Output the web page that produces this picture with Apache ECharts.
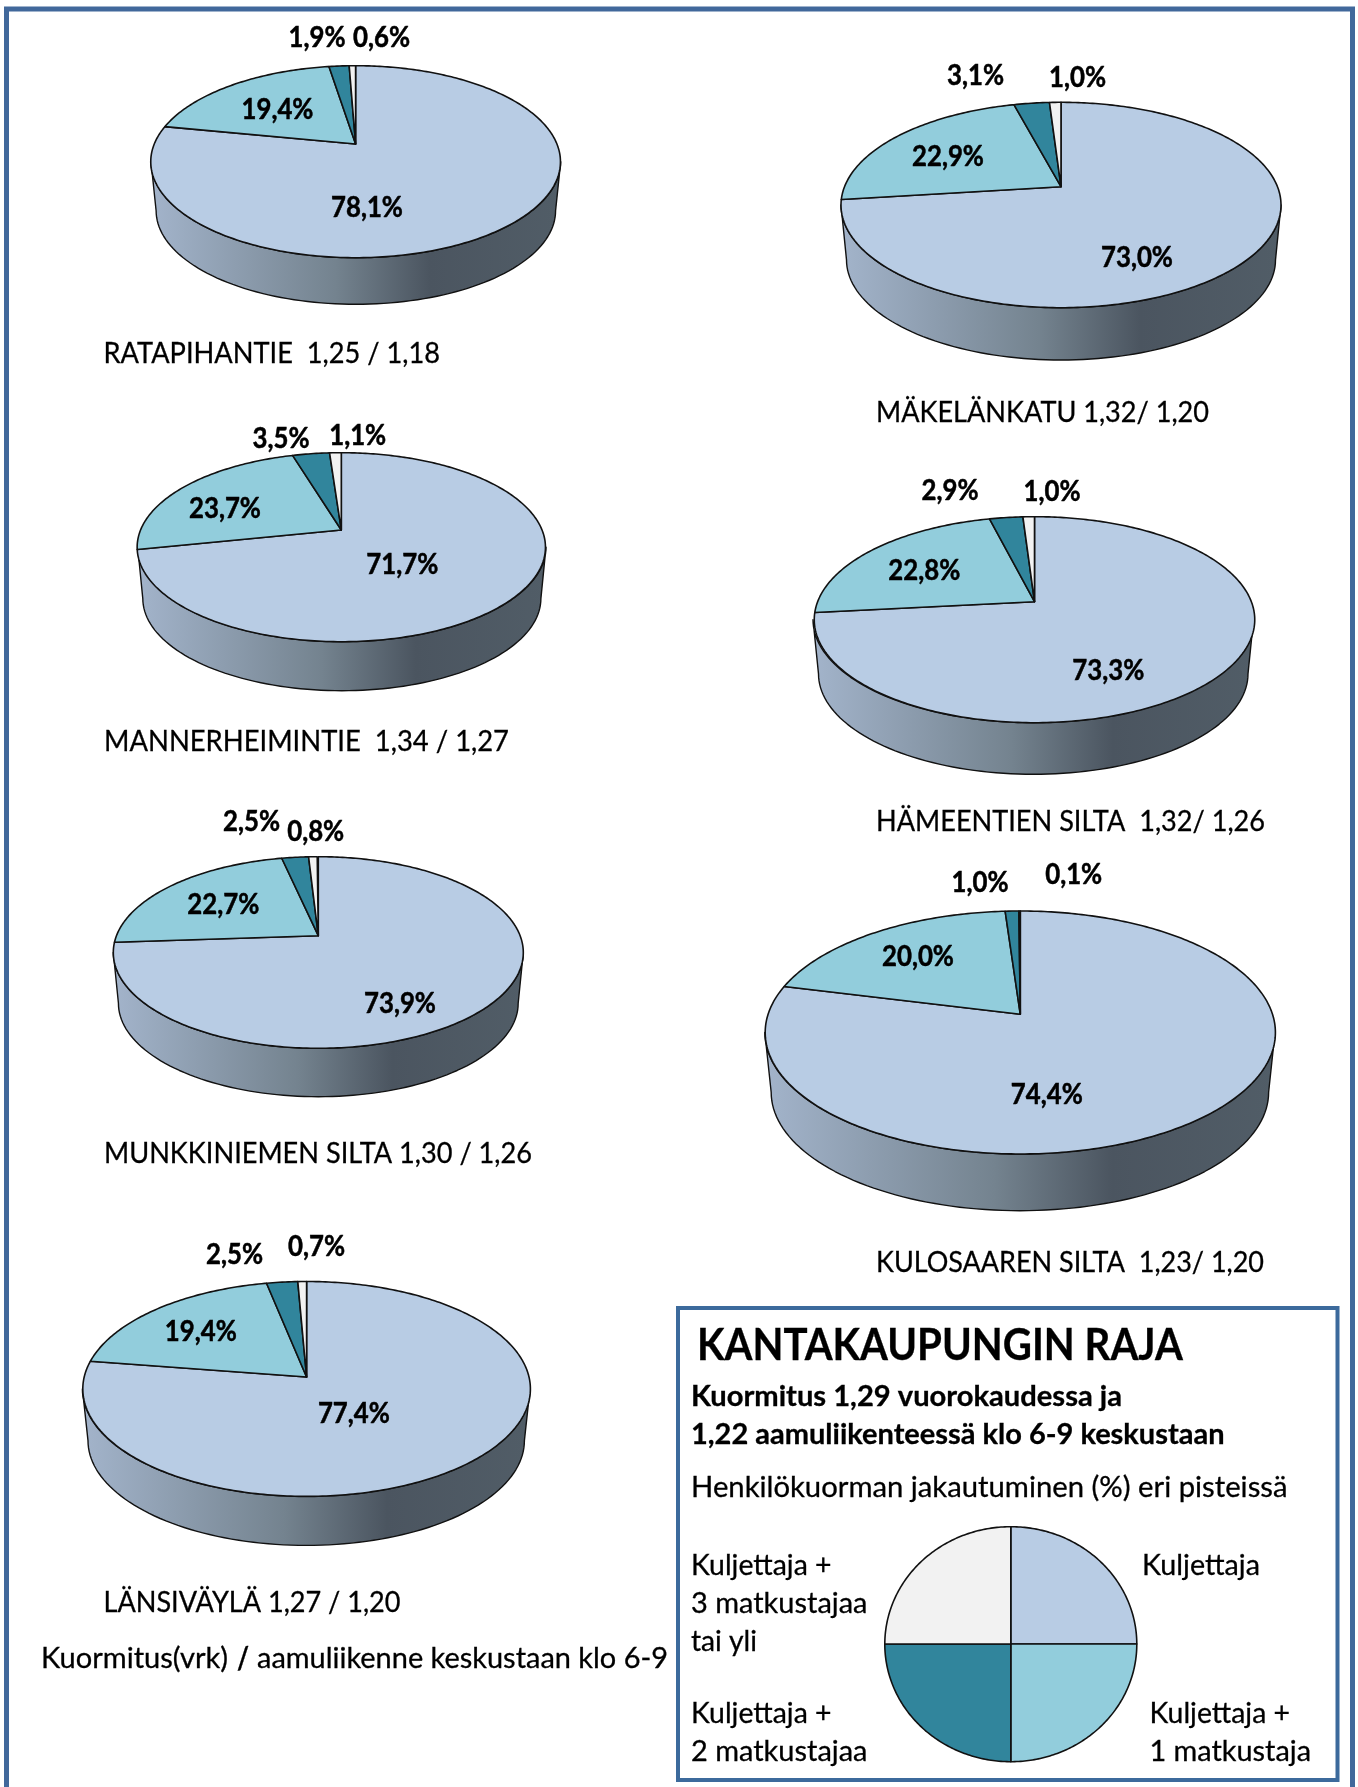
<!DOCTYPE html>
<html>
<head>
    <meta charset="utf-8">
    <script src="https://cdn.jsdelivr.net/npm/echarts@6/dist/echarts.min.js"></script>
    <style>html,body{margin:0;padding:0;background:#fff}</style>
</head>
<body>
    <div id="main" style="width:1358px;height:1787px;"></div>
    <script type="text/javascript">
    // slice share per point, order: kuljettaja, +1, +2, +3 or more
    let ratapihantieValues = [78.1, 19.4, 1.9, 0.6]
    let makelankatuValues = [73.0, 22.9, 3.1, 1.0]
    let mannerheimintieValues = [71.7, 23.7, 3.5, 1.1]
    let hameentienValues = [73.3, 22.8, 2.9, 1.0]
    let munkkiniemenValues = [73.9, 22.7, 2.5, 0.8]
    // the drawn slice is about 78.9 although its printed label says 74,4%
    let kulosaarenValues = [78.9, 20.0, 1.0, 0.1]
    let lansivaylaValues = [77.4, 19.4, 2.5, 0.7]
    let legendValues = [25, 25, 25, 25]

    let ratapihantieLabels = ['78,1%', '19,4%', '1,9%', '0,6%']
    let makelankatuLabels = ['73,0%', '22,9%', '3,1%', '1,0%']
    let mannerheimintieLabels = ['71,7%', '23,7%', '3,5%', '1,1%']
    let hameentienLabels = ['73,3%', '22,8%', '2,9%', '1,0%']
    let munkkiniemenLabels = ['73,9%', '22,7%', '2,5%', '0,8%']
    let kulosaarenLabels = ['74,4%', '20,0%', '1,0%', '0,1%']
    let lansivaylaLabels = ['77,4%', '19,4%', '2,5%', '0,7%']

    let colors = ['#b8cce4', '#92cddc', '#31859c', '#f2f2f2']
    let lineColor = '#111'

    // left, right, top, bottom, apexX, apexY, wallBottom
    let pies = [
        {name: 'Ratapihantie', values: ratapihantieValues, labels: ratapihantieLabels,
         box: [151, 560.7, 65.7, 257.7, 355.6, 144, 304.3],
         labelAt: [[367, 208], [277.5, 110], [317, 37.7], [381.6, 37.7]]},
        {name: 'Mäkelänkatu', values: makelankatuValues, labels: makelankatuLabels,
         box: [841, 1281, 102.3, 307.7, 1061, 186.7, 360],
         labelAt: [[1137, 257.5], [948, 156.7], [975.5, 76], [1077.5, 78.3]]},
        {name: 'Mannerheimintie', values: mannerheimintieValues, labels: mannerheimintieLabels,
         box: [137.7, 546, 452.7, 641.7, 341.3, 530, 690.7],
         labelAt: [[402.3, 564.5], [225, 509.3], [281, 439], [357.7, 436]]},
        {name: 'Hämeentien silta', values: hameentienValues, labels: hameentienLabels,
         box: [813, 1253.5, 516.7, 722.7, 1034.5, 601.7, 774.3],
         labelAt: [[1108.3, 670.5], [924.3, 570.5], [950, 490.7], [1052, 492.3]]},
        {name: 'Munkkiniemen silta', values: munkkiniemenValues, labels: munkkiniemenLabels,
         box: [113.3, 523.3, 856.7, 1048.3, 318.3, 935.7, 1096.7],
         labelAt: [[400, 1004.3], [223.3, 905.3], [251.5, 822], [315.7, 831.7]]},
        {name: 'Kulosaaren silta', values: kulosaarenValues, labels: kulosaarenLabels,
         box: [764.8, 1275, 911, 1154, 1020.3, 1014.3, 1210.7],
         labelAt: [[1046.8, 1095], [918, 957.3], [980, 883.3], [1073.7, 874.5]]},
        {name: 'Länsiväylä', values: lansivaylaValues, labels: lansivaylaLabels,
         box: [82.4, 530, 1281.5, 1496.4, 306.6, 1377, 1545.4],
         labelAt: [[353.9, 1414], [200.8, 1332.3], [234.5, 1254.5], [316.6, 1246.7]]},
        {name: 'Selite', values: legendValues, labels: null,
         box: [884.8, 1136.8, 1526.7, 1761.7, 1010.8, 1644, null], labelAt: null}
    ]

    // text, left, right, middle y, font weight, font size
    let texts = [
        ['RATAPIHANTIE  1,25 / 1,18', 103.5, 440, 354, 'normal', 29],
        ['MÄKELÄNKATU 1,32/ 1,20', 876, 1209, 413, 'normal', 29],
        ['MANNERHEIMINTIE  1,34 / 1,27', 104, 509, 742, 'normal', 29],
        ['HÄMEENTIEN SILTA  1,32/ 1,26', 876, 1265, 822, 'normal', 29],
        ['MUNKKINIEMEN SILTA 1,30 / 1,26', 104, 532, 1154, 'normal', 29],
        ['KULOSAAREN SILTA  1,23/ 1,20', 876, 1264, 1263, 'normal', 29],
        ['LÄNSIVÄYLÄ 1,27 / 1,20', 103.5, 400.5, 1603, 'normal', 29],
        ['Kuormitus(vrk)', 41, 228, 1659, 'normal', 29],
        ['/', 237, 249, 1659, 'bold', 31],
        ['aamuliikenne keskustaan klo 6-9', 257, 668, 1659, 'normal', 29],
        ['KANTAKAUPUNGIN RAJA', 697, 1183, 1346, 'bold', 44],
        ['Kuormitus 1,29 vuorokaudessa ja', 691, 1122, 1397, 'bold', 29],
        ['1,22 aamuliikenteessä klo 6-9 keskustaan', 691, 1224.5, 1435, 'bold', 29],
        ['Henkilökuorman jakautuminen (%) eri pisteissä', 691, 1287.5, 1488, 'normal', 29],
        ['Kuljettaja +', 691, 831.5, 1566, 'normal', 29],
        ['3 matkustajaa', 691, 867.5, 1604, 'normal', 29],
        ['tai yli', 691, 757, 1641.7, 'normal', 29],
        ['Kuljettaja +', 691, 831.5, 1714, 'normal', 29],
        ['2 matkustajaa', 691, 867.5, 1751.7, 'normal', 29],
        ['Kuljettaja', 1142, 1260, 1566, 'normal', 29],
        ['Kuljettaja +', 1149.5, 1290, 1714, 'normal', 29],
        ['1 matkustaja', 1149.5, 1311, 1751.7, 'normal', 29]
    ]

    let measure = document.createElement('canvas').getContext('2d')
    function textEl(t) {
        let font = t[4] + ' ' + t[5] + 'px Lato'
        measure.font = font
        return {
            type: 'text', x: t[1], y: t[3], z: 10,
            scaleX: (t[2] - t[1]) / measure.measureText(t[0]).width,
            style: {x: 0, y: 0, text: t[0], font: font, fill: '#000', stroke: '#000', lineWidth: 0.3,
                    textVerticalAlign: 'middle'}
        }
    }

    // the pies are tilted discs, so the centre point is not the middle of the ellipse:
    // circle point -> screen through a small perspective factor k
    function projector(box) {
        let up = box[5] - box[2]
        let down = box[3] - box[5]
        let k = (down - up) / (down + up)
        let B = up * (1 + k)
        let A = (box[1] - box[0]) / 2 * Math.sqrt(1 - k * k)
        return function (pct) {
            let a = pct / 100 * Math.PI * 2
            let w = 1 + k * Math.cos(a)
            return [box[4] + A * Math.sin(a) / w, box[5] - B * Math.cos(a) / w]
        }
    }

    function wallPoints(box) {
        let rx = (box[1] - box[0]) / 2
        let ry = (box[3] - box[2]) / 2
        let cx = (box[1] + box[0]) / 2
        let cy = (box[3] + box[2]) / 2
        let rx2 = rx * 0.975
        let ry2 = ry * 0.975
        let cy2 = box[6] - ry2
        let pts = []
        for (let d = 0; d <= 180; d += 2) {
            let a = d * Math.PI / 180
            pts.push([cx - rx * Math.cos(a), cy + ry * Math.sin(a)])
        }
        for (let d = 180; d >= 0; d -= 2) {
            let a = d * Math.PI / 180
            pts.push([cx - rx2 * Math.cos(a), cy2 + ry2 * Math.sin(a)])
        }
        return pts
    }

    let wallFill = new echarts.graphic.LinearGradient(0, 0, 1, 0, [
        {offset: 0, color: '#a3b4cb'},
        {offset: 0.45, color: '#74838f'},
        {offset: 0.68, color: '#4b5560'},
        {offset: 1, color: '#515d67'}
    ])

    function pieSeries(pie) {
        let project = projector(pie.box)
        return {
            type: 'custom',
            name: pie.name,
            coordinateSystem: 'none',
            silent: true,
            animation: false,
            data: pie.values,
            renderItem: function (params, api) {
                let i = params.dataIndex
                let start = 0
                for (let n = 0; n < i; n++) start += pie.values[n]
                let end = start + api.value(0)
                let points = [[pie.box[4], pie.box[5]]]
                for (let p = start; p < end; p += 0.25) points.push(project(p))
                points.push(project(end))
                let children = []
                if (i == 0 && pie.box[6]) {
                    children.push({
                        type: 'polygon',
                        shape: {points: wallPoints(pie.box)},
                        style: {fill: wallFill, stroke: lineColor, lineWidth: 1.4, lineJoin: 'round'}
                    })
                }
                children.push({
                    type: 'polygon',
                    shape: {points: points},
                    style: {fill: colors[i], stroke: lineColor, lineWidth: 1.6, lineJoin: 'round'}
                })
                return {type: 'group', children: children}
            }
        }
    }

    // percent labels go on top of every slice of the pie
    let labelEls = []
    pies.forEach(pie => {
        if (!pie.labels) return
        pie.labels.forEach((text, i) => {
            labelEls.push({
                type: 'text', x: pie.labelAt[i][0], y: pie.labelAt[i][1], z: 10, scaleX: 0.92,
                style: {text: text, font: 'bold 28px Lato', fill: '#000', stroke: '#000', lineWidth: 0.5,
                        textAlign: 'center', textVerticalAlign: 'middle'}
            })
        })
    })

    let frames = [
        {type: 'rect', z: 0, shape: {x: 6.5, y: 9, width: 1346, height: 1790},
         style: {fill: 'none', stroke: '#41689b', lineWidth: 5}},
        {type: 'rect', z: 0, shape: {x: 678, y: 1308, width: 659.5, height: 472},
         style: {fill: '#fff', stroke: '#3c6a9c', lineWidth: 4}}
    ]

    let myChart = echarts.init(document.getElementById('main'))
    myChart.setOption({
        backgroundColor: '#fff',
        animation: false,
        series: pies.map(pieSeries),
        graphic: frames.concat(texts.map(textEl), labelEls)
    })
    </script>
</body>
</html>
